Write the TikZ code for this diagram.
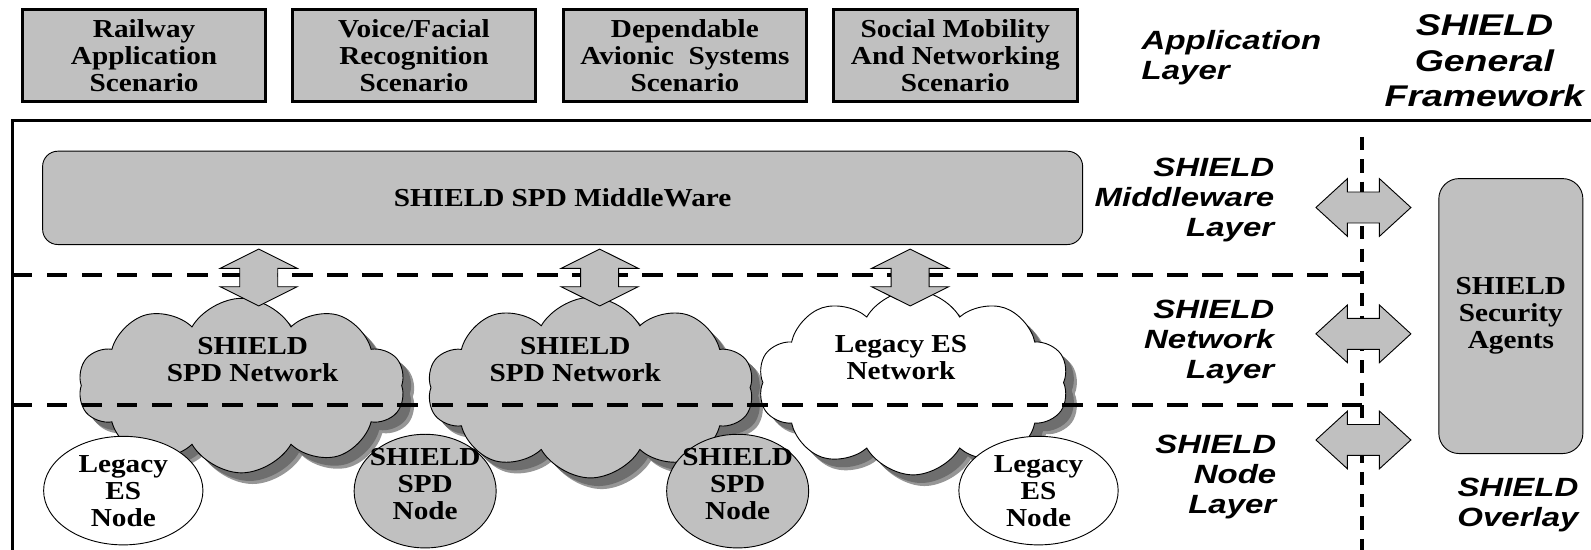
\documentclass[tikz,border=0pt]{standalone}
\usepackage{fontspec}
\setmainfont{Liberation Serif}[FakeStretch=1.13]
\newfontfamily\lsans{Liberation Sans}[FakeStretch=1.25]
\usetikzlibrary{shapes.symbols,shapes.arrows,shapes.geometric}
\definecolor{boxgray}{RGB}{192,192,192}
\definecolor{shadowgray}{RGB}{110,110,110}
\definecolor{shadowlight}{RGB}{150,150,150}
\newcommand\sertxt{\fontsize{25.5}{26.5}\selectfont\bfseries}
\newcommand\lbltxt{\lsans\fontsize{26}{29.5}\selectfont\bfseries\itshape}
\newcommand\biglbl{\lsans\fontsize{29.5}{35}\selectfont\bfseries\itshape}
\tikzset{
  appbox/.style={draw, line width=2.8pt, fill=boxgray, minimum width=240pt, minimum height=91pt, inner sep=0pt, align=center, font=\sertxt},
  txt/.style={align=center, font=\sertxt, inner sep=0pt},
  lbl/.style={font=\lbltxt, inner sep=0pt},
  hdash/.style={line width=3.4pt, dash pattern=on 20pt off 14.5pt},
  vdash/.style={line width=3.8pt, dash pattern=on 13pt off 9pt},
  cloudbase/.style={cloud, cloud puffs=10, cloud puff arc=120, cloud ignores aspect, inner sep=0pt},
  cloudfg/.style={cloudbase, draw, line width=0.9pt},
  cloudsh/.style={cloudbase, fill=shadowgray},
  cloudsl/.style={cloudbase, fill=shadowlight},
  vdarrow/.style={double arrow, draw, line width=0.9pt, fill=boxgray, rotate=90, minimum height=56pt, minimum width=0pt, inner xsep=0pt, inner ysep=18.25pt, double arrow head extend=19.25pt, double arrow tip angle=127},
  hdarrow/.style={double arrow, draw, line width=0.9pt, fill=boxgray, minimum height=93.6pt, minimum width=0pt, inner xsep=0pt, inner ysep=14.8pt, double arrow head extend=13.2pt, double arrow tip angle=85},
  nodeell/.style={ellipse, draw, line width=0.9pt, inner sep=0pt},
}
\begin{document}
\begin{tikzpicture}[x=1pt,y=-1pt]
\useasboundingbox (0,0) rectangle (1568,542);
\fill[white] (0,0) rectangle (1568,542);
% application layer boxes
\node[appbox] (b1) at (142,54.5) {Railway\\Application\\Scenario};
\node[appbox] (b2) at (408,54.5) {Voice/Facial\\Recognition\\Scenario};
\node[appbox] (b3) at (675,54.5) {Dependable\\Avionic\ \ Systems\\Scenario};
\node[appbox] (b4) at (941.5,54.5) {Social Mobility\\And Networking\\Scenario};
\node[lbl, align=left, anchor=west] (applbl) at (1125,57) {Application\\Layer};
\node[inner sep=0pt, font=\biglbl, align=center] (gf) at (1463,60) {SHIELD\\General\\Framework};
% frame
\draw[line width=3pt] (12,542) -- (12,119) -- (1568,119);
% middleware
\node[draw, line width=0.9pt, fill=boxgray, rounded corners=15pt, minimum width=1025pt, minimum height=92pt, font=\sertxt] (mw) at (554.5,195) {SHIELD SPD MiddleWare};
% clouds (shadow, then cloud)
\node[cloudsl, minimum width=322pt, minimum height=172pt] (c1l) at (249,391) {};
\node[cloudsh, minimum width=322pt, minimum height=172pt] (c1s) at (246,388) {};
\node[cloudfg, fill=boxgray, minimum width=322pt, minimum height=172pt] (c1) at (238,380) {};
\node[cloudsl, minimum width=322pt, minimum height=178pt] (c2l) at (593,393) {};
\node[cloudsh, minimum width=322pt, minimum height=178pt] (c2s) at (590,390) {};
\node[cloudfg, fill=boxgray, minimum width=322pt, minimum height=178pt] (c2) at (582,382) {};
\node[cloudsl, minimum width=306pt, minimum height=182pt] (c3l) at (911,388) {};
\node[cloudsh, minimum width=306pt, minimum height=182pt] (c3s) at (908,385) {};
\node[cloudfg, fill=white, minimum width=306pt, minimum height=182pt] (c3) at (900,377) {};
\node[txt] (c1t) at (249,354) {SHIELD\\SPD Network};
\node[txt] (c2t) at (567,354) {SHIELD\\SPD Network};
\node[txt] (c3t) at (888,352) {Legacy ES\\Network};
% dashed layer separators
\coordinate (d1l) at (12,271);
\coordinate (d1r) at (1342,271);
\coordinate (d2l) at (12,399);
\coordinate (d2r) at (1342,399);
\coordinate (vt) at (1342,135);
\coordinate (vb) at (1342,542);
\draw[hdash] (d1l) -- (d1r);
\draw[hdash] (d2l) -- (d2r);
\draw[vdash] (vt) -- (vb);
% vertical double arrows
\node[vdarrow] (a1) at (255,273.5) {};
\node[vdarrow] (a2) at (591,273.5) {};
\node[vdarrow] (a3) at (897,273.5) {};
% horizontal double arrows
\node[hdarrow] (h1) at (1343.7,204.5) {};
\node[hdarrow] (h2) at (1343.7,329) {};
\node[hdarrow] (h3) at (1343.7,433.6) {};
% layer labels
\node[lbl, align=right, anchor=east] (lmw) at (1256,197) {SHIELD\\Middleware\\Layer};
\node[lbl, align=right, anchor=east] (lnw) at (1256,337) {SHIELD\\Network\\Layer};
\node[lbl, align=right, anchor=east] (lnd) at (1258,470) {SHIELD\\Node\\Layer};
% nodes
\node[nodeell, fill=white, minimum width=157pt, minimum height=107pt] (n1) at (121.5,483.5) {};
\node[txt] (n1t) at (121.5,484) {Legacy\\ES\\Node};
\node[nodeell, fill=boxgray, minimum width=140pt, minimum height=112pt] (n2) at (419,484) {};
\node[txt] (n2t) at (419,477) {SHIELD\\SPD\\Node};
\node[nodeell, fill=boxgray, minimum width=140pt, minimum height=112pt] (n3) at (727,484) {};
\node[txt] (n3t) at (727,477) {SHIELD\\SPD\\Node};
\node[nodeell, fill=white, minimum width=157pt, minimum height=107pt] (n4) at (1023.5,483.5) {};
\node[txt] (n4t) at (1023.5,484) {Legacy\\ES\\Node};
% overlay
\node[draw, line width=0.9pt, fill=boxgray, rounded corners=20pt, minimum width=142pt, minimum height=271pt, font=\sertxt, align=center] (sa) at (1489,311.5) {SHIELD\\Security\\Agents};
\node[lbl, align=center] (ov) at (1496,497.5) {SHIELD\\Overlay};
\end{tikzpicture}
\end{document}
